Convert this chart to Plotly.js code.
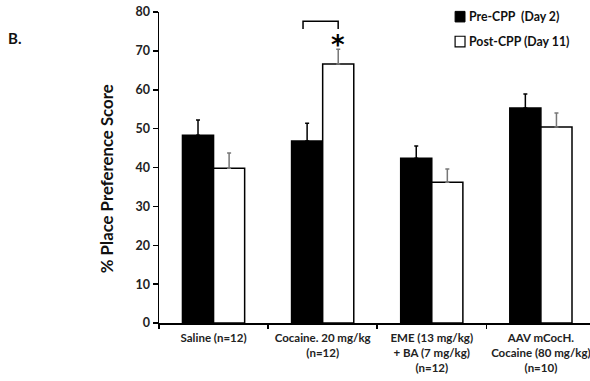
<!DOCTYPE html>
<html><head><meta charset="utf-8">
<script src="https://cdn.plot.ly/plotly-3.0.1.min.js"></script>
<style>html,body{margin:0;padding:0;background:#fff}#chart{width:590px;height:381px}</style>
</head><body><div id="chart"></div>
<script>
const categories = ["Saline (n=12)", "Cocaine. 20 mg/kg<br>(n=12)", "EME (13 mg/kg)<br>+ BA (7 mg/kg)<br>(n=12)", "AAV mCocH.<br>Cocaine (80 mg/kg)<br>(n=10)"];
const preCPP = [48.3, 46.8, 42.4, 55.3];
const preErr = [3.9, 4.6, 3.1, 3.6];
const postCPP = [39.8, 66.6, 36.2, 50.4];
const postErr = [3.9, 3.8, 3.4, 3.6];
const seriesNames = ["Pre-CPP&nbsp;&nbsp;(Day 2)", "Post-CPP (Day 11)"];
const yTicks = [0, 10, 20, 30, 40, 50, 60, 70, 80];
const yTitle = "% Place Preference Score";
const panelLabel = "B.";

const FONT = "Lato, Open Sans, sans-serif";
const traces = [
  {type: "bar", name: seriesNames[0], x: categories, y: preCPP,
   marker: {color: "#000", line: {color: "#000", width: 1.5}},
   error_y: {type: "data", symmetric: false, array: preErr, arrayminus: [0,0,0,0], color: "#000", thickness: 1.5, width: 2}},
  {type: "bar", name: seriesNames[1], x: categories, y: postCPP,
   marker: {color: "#fff", line: {color: "#000", width: 1.5}},
   error_y: {type: "data", symmetric: false, array: postErr, arrayminus: [0,0,0,0], color: "#777", thickness: 1.5, width: 2}}
];

const legendFont = {family: FONT, size: 12.3, weight: "bold", color: "#111"};
const layout = {
  width: 590, height: 381,
  margin: {l: 159, r: 0, t: 12, b: 58},
  paper_bgcolor: "#fff", plot_bgcolor: "#fff",
  barmode: "group", bargap: 0.43, bargroupgap: 0,
  font: {family: FONT, color: "#222"},
  showlegend: false,
  xaxis: {type: "category", range: [-0.5, 3.45], showline: true, linecolor: "#000", linewidth: 1.5,
    ticks: "outside", tickson: "boundaries", ticklen: 4, tickcolor: "#000", tickwidth: 1.5,
    ticklabelstandoff: 4, tickangle: 0,
    tickfont: {family: FONT, size: 11.5, weight: "bold", color: "#222"}, showgrid: false, zeroline: false},
  yaxis: {range: [0, 80], tickvals: yTicks, showline: true, linecolor: "#000", linewidth: 1.5,
    ticks: "outside", ticklen: 5, tickcolor: "#000", tickwidth: 1.5, showgrid: false, zeroline: false,
    tickfont: {family: FONT, size: 12.5, weight: "bold", color: "#222"}},
  shapes: [
    {type: "path", xref: "x", yref: "y", path: "M 0.82 75.6 L 0.82 77.6 L 1.142 77.6 L 1.142 75.6",
     line: {color: "#000", width: 1.5}},
    {type: "rect", xref: "paper", yref: "paper", x0: 0.687, x1: 0.710, y0: 0.968, y1: 1.002,
     fillcolor: "#000", line: {color: "#000", width: 1}},
    {type: "rect", xref: "paper", yref: "paper", x0: 0.687, x1: 0.710, y0: 0.888, y1: 0.922,
     fillcolor: "#fff", line: {color: "#000", width: 1.2}}
  ],
  annotations: [
    {text: "*", xref: "x", yref: "y", x: 1.142, y: 71.5, showarrow: false, font: {family: "DejaVu Sans", size: 26, weight: "bold", color: "#000"}},
    {text: panelLabel, xref: "paper", yref: "paper", x: -0.355, y: 0.915, xanchor: "left", yanchor: "middle", showarrow: false,
     font: {family: FONT, size: 15, weight: "bold", color: "#111"}},
    {text: seriesNames[0], xref: "paper", yref: "paper", x: 0.7146, y: 0.985, xanchor: "left", yanchor: "middle", showarrow: false, font: legendFont},
    {text: seriesNames[1], xref: "paper", yref: "paper", x: 0.7146, y: 0.905, xanchor: "left", yanchor: "middle", showarrow: false, font: legendFont},
    {text: yTitle, xref: "paper", yref: "paper", x: -0.121, y: 0.465, xanchor: "center", yanchor: "middle", textangle: -90, showarrow: false,
     font: {family: FONT, size: 16.8, weight: "bold", color: "#111"}}
  ]
};
Plotly.newPlot("chart", traces, layout, {displayModeBar: false, staticPlot: true});
</script></body></html>
